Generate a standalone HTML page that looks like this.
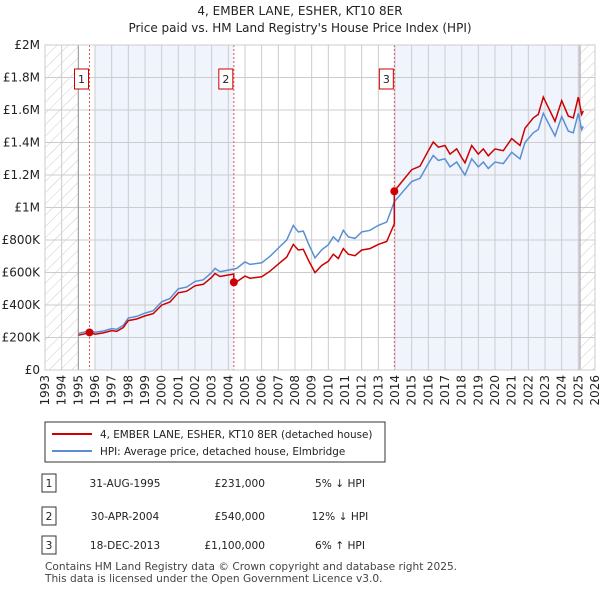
<!DOCTYPE html>
<html><head><meta charset="utf-8"><style>
body{margin:0;width:600px;height:590px;background:#fff;font-family:"Liberation Sans","DejaVu Sans",sans-serif;overflow:hidden}
svg{position:absolute;left:0;top:0}
</style></head><body>
<svg width="600" height="590" xmlns="http://www.w3.org/2000/svg" font-family="DejaVu Sans, Liberation Sans, sans-serif">
<defs><pattern id="hatch" width="8" height="8" patternUnits="userSpaceOnUse" patternTransform="rotate(45)"><line x1="0" y1="0" x2="0" y2="8" stroke="#ccc" stroke-width="1"/></pattern></defs>
<text x="300" y="15" text-anchor="middle" font-size="12" fill="#222">4, EMBER LANE, ESHER, KT10 8ER</text>
<text x="300" y="32" text-anchor="middle" font-size="12" fill="#222">Price paid vs. HM Land Registry's House Price Index (HPI)</text>
<g id="plot"></g>
<g id="legend">
<rect x="45" y="422" width="340" height="40" fill="#fff" stroke="#333" stroke-width="1"/>
<line x1="52" y1="434" x2="92" y2="434" stroke="#cc0000" stroke-width="2"/>
<text x="100" y="438" font-size="10.4" fill="#222">4, EMBER LANE, ESHER, KT10 8ER (detached house)</text>
<line x1="52" y1="451" x2="92" y2="451" stroke="#5b8fd4" stroke-width="2"/>
<text x="100" y="455" font-size="10.4" fill="#222">HPI: Average price, detached house, Elmbridge</text>
</g>
<g id="table" font-size="11" fill="#222"></g>
<text x="45" y="570" font-size="10.6" fill="#444">Contains HM Land Registry data © Crown copyright and database right 2025.</text>
<text x="45" y="582" font-size="10.6" fill="#444">This data is licensed under the Open Government Licence v3.0.</text>
</svg>
<script>
const hpiYears=[1995.0,1995.3,1995.67,1996,1996.5,1997,1997.3,1997.7,1998,1998.5,1999,1999.5,2000,2000.5,2001,2001.5,2002,2002.5,2003,2003.2,2003.5,2004,2004.5,2005,2005.3,2006,2006.5,2007,2007.5,2007.9,2008.2,2008.5,2008.8,2009.2,2009.6,2010,2010.3,2010.6,2010.9,2011.2,2011.6,2012,2012.5,2013,2013.5,2013.96,2014.5,2015,2015.5,2016,2016.3,2016.6,2017,2017.3,2017.7,2018,2018.2,2018.6,2019,2019.3,2019.6,2020,2020.5,2021,2021.5,2021.8,2022.3,2022.6,2022.9,2023.3,2023.6,2024,2024.4,2024.7,2025,2025.2,2025.3];
const hpiValues=[225,232,243,232,240,255,250,275,320,330,350,365,420,440,500,510,545,555,600,625,605,615,625,665,650,660,700,750,800,890,850,855,780,690,740,770,820,790,860,820,810,850,860,890,910,1035,1100,1160,1180,1270,1320,1290,1300,1250,1280,1230,1200,1300,1250,1280,1240,1280,1270,1340,1300,1400,1460,1480,1580,1500,1440,1560,1470,1460,1580,1480,1500];
const saleYears=[1995.67,2004.33,2013.96];
const salePrices=[231,540,1100];
const saleLabels=["1","2","3"];
const saleDates=["31-AUG-1995","30-APR-2004","18-DEC-2013"];
const salePriceText=["£231,000","£540,000","£1,100,000"];
const saleHpiText=["5% ↓ HPI","12% ↓ HPI","6% ↑ HPI"];
const yTicks=[0,200,400,600,800,1000,1200,1400,1600,1800,2000];
const yTickLabels=["£0","£200K","£400K","£600K","£800K","£1M","£1.2M","£1.4M","£1.6M","£1.8M","£2M"];
const xStart=1993,xEnd=2026;

const X0=45,X1=595,Y0=370,Y1=45;
const sx=y=>X0+(y-xStart)/(xEnd-xStart)*(X1-X0);
const sy=v=>Y0-v/2000*(Y0-Y1);
const NS="http://www.w3.org/2000/svg";
const plot=document.getElementById('plot');
function mk(tag,attrs,parent){const e=document.createElementNS(NS,tag);for(const k in attrs)e.setAttribute(k,attrs[k]);(parent||plot).appendChild(e);return e;}
function interp(t){for(let i=0;i<hpiYears.length-1;i++){if(t>=hpiYears[i]&&t<=hpiYears[i+1]){const f=(t-hpiYears[i])/(hpiYears[i+1]-hpiYears[i]);return hpiValues[i]+f*(hpiValues[i+1]-hpiValues[i]);}}return hpiValues[hpiValues.length-1];}

let r=mk('rect',{x:sx(1996),y:Y1,width:sx(saleYears[1])-sx(1996),height:Y0-Y1,fill:'#f0f4fc'});

r=mk('rect',{x:sx(saleYears[2]),y:Y1,width:sx(2025.1)-sx(saleYears[2]),height:Y0-Y1,fill:'#f0f4fc'});

r=mk('rect',{x:X0,y:Y1,width:sx(1995)-X0,height:Y0-Y1,fill:'url(#hatch)'});

r=mk('rect',{x:sx(2025.1),y:Y1,width:X1-sx(2025.1),height:Y0-Y1,fill:'url(#hatch)'});


for(let y=xStart;y<=xEnd;y++){const l=mk('line',{x1:sx(y),x2:sx(y),y1:Y1,y2:Y0,stroke:'#cccccc','stroke-width':1});

const t=mk('text',{x:0,y:0,'font-size':12,fill:'#222','text-anchor':'end',transform:`translate(${sx(y)+4},${Y0+5}) rotate(-90)`});t.textContent=y;
}
yTicks.forEach((v,i)=>{const l=mk('line',{x1:X0,x2:X1,y1:sy(v),y2:sy(v),stroke:'#cccccc','stroke-width':1});

const t=mk('text',{x:X0-5,y:sy(v)+4,'font-size':12,fill:'#222','text-anchor':'end'});t.textContent=yTickLabels[i];
});
let l2=mk('line',{x1:sx(1995),x2:sx(1995),y1:Y1,y2:Y0,stroke:'#999','stroke-width':1});

l2=mk('line',{x1:sx(2025.1),x2:sx(2025.1),y1:Y1,y2:Y0,stroke:'#999','stroke-width':1});


saleYears.forEach((s,i)=>{const l=mk('line',{x1:sx(s),x2:sx(s),y1:Y1,y2:Y0,stroke:'#ee5555','stroke-width':1,'stroke-dasharray':'2,2'});
});

let d=hpiYears.map((t,i)=>(i?'L':'M')+sx(t).toFixed(1)+','+sy(hpiValues[i]).toFixed(1)).join('');
let p=mk('path',{d:d,fill:'none',stroke:'#5b8fd4','stroke-width':1.5});

function seg(i){return salePrices[i]/interp(saleYears[i]);}
let pts=[];
hpiYears.forEach((t,i)=>{let k=0;for(let j=0;j<saleYears.length;j++)if(t>=saleYears[j]-1e-6)k=j;pts.push([t,hpiValues[i]*seg(k)]);});
let dd='';let first=true;
for(let i=0;i<hpiYears.length;i++){const t=hpiYears[i];
for(let j=1;j<saleYears.length;j++){if(i>0&&hpiYears[i-1]<saleYears[j]&&t>=saleYears[j]){const hv=interp(saleYears[j]);dd+='L'+sx(saleYears[j]).toFixed(1)+','+sy(hv*seg(j-1)).toFixed(1)+'L'+sx(saleYears[j]).toFixed(1)+','+sy(salePrices[j]).toFixed(1);}}
dd+=(first?'M':'L')+sx(t).toFixed(1)+','+sy(pts[i][1]).toFixed(1);first=false;}
p=mk('path',{d:dd,fill:'none',stroke:'#cc0000','stroke-width':1.5});

saleYears.forEach((s,i)=>{const c=mk('circle',{cx:sx(s),cy:sy(salePrices[i]),r:4,fill:'#cc0000'});

const b=mk('rect',{x:sx(s)-15,y:69,width:14,height:20,fill:'#fff',stroke:'#cc0000'});

const t=mk('text',{x:sx(s)-8,y:83,'font-size':11,fill:'#222','text-anchor':'middle'});t.textContent=saleLabels[i];
});
let ax=mk('rect',{x:X0,y:Y1,width:X1-X0,height:Y0-Y1,fill:'none',stroke:'#cccccc'});


const tb=document.getElementById('table');
const rowY=[483,516,545];
saleYears.forEach((s,i)=>{const y=rowY[i];
const b=mk('rect',{x:42,y:y-9,width:14,height:18,fill:'#fff',stroke:'#333'},tb);

const cells=[[49,saleLabels[i],'middle','table-badge-label'],[125,saleDates[i],'middle','table-date'],[265,salePriceText[i],'end','table-price'],[340,saleHpiText[i],'middle','table-hpi-diff']];
cells.forEach(c=>{const t=mk('text',{x:c[0],y:y+4,'text-anchor':c[2],'font-size':10.6,fill:'#222'},tb);t.textContent=c[1];
});});
</script>
</body></html>
